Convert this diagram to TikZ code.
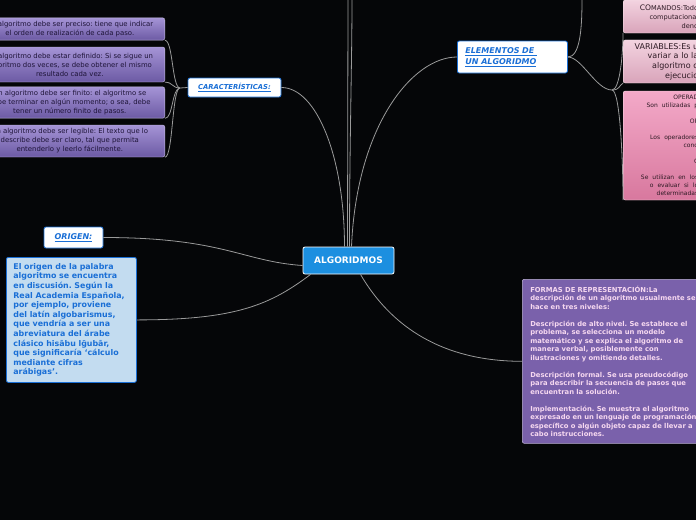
\documentclass[tikz,border=0pt]{standalone}
\usepackage{fontspec}
\setmainfont{DejaVu Sans}
\frenchspacing
\definecolor{mapbg}{HTML}{050608}
\definecolor{linegray}{HTML}{9A9A9A}
\definecolor{rootblue}{HTML}{1C8FE0}
\definecolor{topicblue}{HTML}{1A6FD6}
\definecolor{origfill}{HTML}{C3DCF0}
\definecolor{lavtop}{HTML}{A594D6}
\definecolor{lavbot}{HTML}{6C5AA4}
\definecolor{lavtext}{HTML}{1E1438}
\definecolor{pinktop}{HTML}{F3D3E0}
\definecolor{pinkbot}{HTML}{D9A4BA}
\definecolor{rosetop}{HTML}{F3A9C8}
\definecolor{rosebot}{HTML}{D8789E}
\definecolor{pinktext}{HTML}{2E1A24}
\definecolor{formfill}{HTML}{7A61AB}
\definecolor{formtext}{HTML}{F6D8F0}
\usetikzlibrary{positioning}

\begin{document}
\begin{tikzpicture}[
    x=1pt, y=-1pt,
    mapline/.style={draw=linegray, line width=0.8pt},
    rootbox/.style={draw=white, line width=0.8pt, fill=rootblue, rounded corners=2pt, text=white, font=\fontsize{9}{10}\selectfont\bfseries},
    topicbox/.style={draw=topicblue, line width=0.8pt, fill=white, rounded corners=2pt, text=topicblue, font=\fontsize{8}{11}\selectfont\bfseries\itshape},
    lavbox/.style={draw=lavtop!60!white, line width=0.4pt, top color=lavtop, bottom color=lavbot, rounded corners=2pt, text=lavtext, align=center, minimum width=190pt, font=\fontsize{6.9}{9}\selectfont},
    pinkbox/.style={draw=pinktop!60!white, line width=0.4pt, top color=pinktop, bottom color=pinkbot, rounded corners=2pt, text=pinktext, align=right, text width=71pt, inner xsep=4pt},
    rosebox/.style={pinkbox, top color=rosetop, bottom color=rosebot}
  ]
    \useasboundingbox[fill=mapbg] (0,0) rectangle (696,520);
    \clip (0,0) rectangle (696,520);

    % centre
    \node[rootbox, minimum width=91pt, minimum height=27pt] (root) at (348.5,260.5) {ALGORIDMOS};

    % main topics
    \node[topicbox, anchor=west, minimum height=32pt, text width=94pt, inner xsep=8pt, align=left] (elem) at (457,57)
      {\underline{ELEMENTOS DE }\\\underline{UN ALGORIDMO}};
    \node[topicbox, minimum width=93pt, minimum height=19pt, inner sep=1pt, font=\fontsize{6.8}{8}\selectfont\bfseries\itshape] (carac) at (234.5,87.5)
      {\underline{CARACTERÍSTICAS:}};
    \node[topicbox, minimum width=59pt, minimum height=21pt, inner sep=1pt] (origen) at (73.5,237.5)
      {\underline{ORIGEN:}};

    % characteristics
    \node[lavbox, anchor=east, minimum height=22pt] (prec) at (165,29)
      {Un algoritmo debe ser preciso: tiene que indicar\\el orden de realización de cada paso.};
    \node[lavbox, anchor=east, minimum height=35pt] (defi) at (165,64.5)
      {Un algoritmo debe estar definido: Si se sigue un\\algoritmo dos veces, se debe obtener el mismo\\resultado cada vez.};
    \node[lavbox, anchor=east, minimum height=31pt] (fini) at (165,102.5)
      {Un algoritmo debe ser finito: el algoritmo se\\debe terminar en algún momento; o sea, debe\\tener un número finito de pasos.};
    \node[lavbox, anchor=east, minimum height=32pt] (legi) at (165,141)
      {Un algoritmo debe ser legible: El texto que lo\\describe debe ser claro, tal que permita\\entenderlo y leerlo fácilmente.};

    % origin text
    \node[draw=topicblue, line width=0.8pt, fill=origfill, rounded corners=2pt, text=topicblue, anchor=north west,
      minimum width=130pt, minimum height=125pt, text width=116pt, inner xsep=7pt, inner ysep=5pt, align=left,
      font=\fontsize{7.9}{9.6}\selectfont\bfseries] (origtxt) at (6,257)
      {El origen de la palabra\\algoritmo se encuentra\\en discusión. Según la\\Real Academia Española,\\por ejemplo, proviene\\del latín algobarismus,\\que vendría a ser una\\abreviatura del árabe\\clásico hisābu lḡubār,\\que significaría ‘cálculo\\mediante cifras\\arábigas’.};

    % elements
    \node[pinkbox, anchor=west, minimum height=33pt, font=\fontsize{6.6}{9}\selectfont] (cmd) at (623,16.5)
      {{\fontsize{7.6}{9}\selectfont CO}MANDOS:Todo\\computacional\\deno};
    \node[pinkbox, anchor=west, minimum height=43pt, font=\fontsize{8}{9.6}\selectfont] (vars) at (623,61.5)
      {VARIABLES:Es u\\variar a lo la\\algoritmo o\\ejecucio};
    \node[rosebox, anchor=west, minimum height=109pt, inner ysep=2pt, font=\fontsize{6}{8}\selectfont] (ops) at (623,145.5)
      {OPERAD\\Son \ utilizadas \ p\\[8pt]OP\\[8pt]Los \ operadores\\cond\\[8pt]C\\[8pt]Se \ utilizan \ en \ los\\o \ evaluar \ si \ lo\\determinadas};

    % forms
    \node[draw=formfill!50!white, line width=0.6pt, fill=formfill, rounded corners=2pt, text=formtext, anchor=north west,
      minimum width=220pt, minimum height=164pt, text width=204pt, inner xsep=8pt, inner ysep=5pt, align=left,
      font=\fontsize{6.8}{8.5}\selectfont\bfseries] (formas) at (522,279)
      {FORMAS DE REPRESENTACIÓN:La\\descripción de un algoritmo usualmente se\\hace en tres niveles:\\[8.5pt]
       Descripción de alto nivel. Se establece el\\problema, se selecciona un modelo\\matemático y se explica el algoritmo de\\manera verbal, posiblemente con\\ilustraciones y omitiendo detalles.\\[8.5pt]
       Descripción formal. Se usa pseudocódigo\\para describir la secuencia de pasos que\\encuentran la solución.\\[8.5pt]
       Implementación. Se muestra el algoritmo\\expresado en un lenguaje de programación\\específico o algún objeto capaz de llevar a\\cabo instrucciones.};

    % free ends and joints
    \coordinate (upA) at (348,0);
    \coordinate (upB) at (352,0);
    \coordinate (upC) at (582,0);
    \coordinate (ej) at (612,90);
    \coordinate (cj) at (180,88);

    % connectors
    \draw[mapline] ([xshift=-1pt]root.north) -- (upA);
    \draw[mapline] ([xshift=1pt]root.north) .. controls +(0,-100) and +(0,60) .. (upB);
    \draw[mapline] (carac.east) .. controls +(35,0) and +(0,-90) .. ([xshift=-4pt]root.north);
    \draw[mapline] ([xshift=3pt]root.north) .. controls +(5,-120) and +(-45,0) .. (elem.west);
    \draw[mapline] (origen.east) .. controls +(120,0) and +(-60,-4) .. ([yshift=-5pt]root.west);
    \draw[mapline] (origtxt.east) .. controls +(100,0) and +(-40,30) .. ([xshift=8pt]root.south west);
    \draw[mapline] ([xshift=12pt]root.south) .. controls +(35,60) and +(-70,0) .. (formas.west);

    \draw[mapline] (elem.east) .. controls +(12,0) and +(0,30) .. (upC);
    \draw[mapline] (elem.east) .. controls +(14,0) and +(-16,0) .. (ej);
    \draw[mapline] (ej) .. controls +(8,0) and +(0,20) .. (cmd.south west);
    \draw[mapline] (ej) .. controls +(8,0) and +(-4,2) .. (vars.south west);
    \draw[mapline] (ej) .. controls +(8,0) and +(0,-40) .. (ops.south west);

    \draw[mapline] (carac.west) -- (cj);
    \draw[mapline] (cj) .. controls +(-8,0) and +(8,0) .. (prec.south east);
    \draw[mapline] (cj) .. controls +(-8,0) and +(8,0) .. (defi.south east);
    \draw[mapline] (cj) .. controls +(-8,0) and +(8,0) .. (fini.south east);
    \draw[mapline] (cj) .. controls +(-8,0) and +(8,0) .. (legi.south east);
  \end{tikzpicture}
\end{document}
